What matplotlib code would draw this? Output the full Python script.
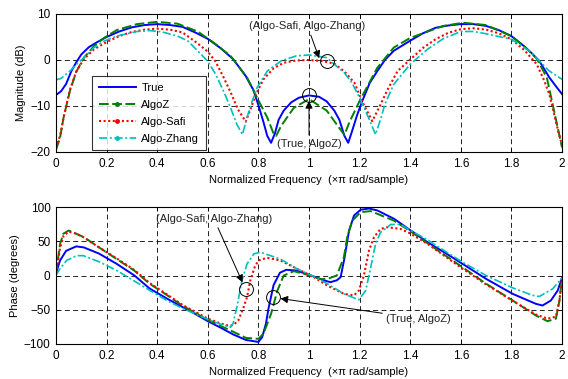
import matplotlib
matplotlib.use("Agg")
import matplotlib.pyplot as plt
from matplotlib.lines import Line2D

plt.rcParams['font.family'] = ['Liberation Sans', 'DejaVu Sans']
plt.rcParams['font.size'] = 8

# ---------------- magnitude responses (dB) ----------------
f_mag_true = [0.00, 0.02, 0.04, 0.06, 0.08, 0.10, 0.13, 0.16, 0.20, 0.25, 0.30, 0.35,
              0.40, 0.45, 0.50, 0.55, 0.60, 0.65, 0.70, 0.75, 0.78, 0.80, 0.82, 0.835,
              0.85, 0.865, 0.88, 0.90, 0.93, 0.96, 1.00, 1.04, 1.07, 1.10, 1.12, 1.14,
              1.155, 1.17, 1.19, 1.21, 1.24, 1.27, 1.30, 1.335, 1.40, 1.45, 1.50, 1.55,
              1.60, 1.65, 1.70, 1.75, 1.80, 1.85, 1.88, 1.91, 1.95, 1.98, 2.00]
mag_true = [-7.6, -6.8, -5.2, -2.5, -0.5, 1.2, 2.8, 3.8, 5.0, 6.2, 7.1, 7.6,
            7.8, 7.6, 7.2, 6.0, 4.6, 2.6, 0.2, -3.5, -6.5, -9.8, -13.5, -16.5,
            -18.0, -16.0, -13.0, -11.0, -9.2, -8.2, -7.7, -8.0, -9.0, -11.0, -13.0, -16.5,
            -18.0, -15.5, -12.0, -9.0, -5.0, -2.4, 0.0, 2.0, 4.2, 5.8, 7.0, 7.5,
            7.8, 7.8, 7.4, 6.5, 5.2, 3.0, 1.5, -0.2, -3.8, -6.0, -7.4]

f_mag_z = [0.00, 0.016, 0.03, 0.055, 0.08, 0.11, 0.15, 0.19, 0.24, 0.32, 0.40, 0.48,
           0.56, 0.62, 0.69, 0.755, 0.795, 0.835, 0.86, 0.87, 0.89, 0.94, 1.00, 1.07,
           1.12, 1.14, 1.16, 1.20, 1.27, 1.335, 1.40, 1.53, 1.61, 1.70, 1.80, 1.85,
           1.90, 1.94, 1.963, 1.983, 2.00]
mag_z = [-19.5, -16.9, -12.5, -6.7, -2.6, 0.5, 3.0, 4.8, 6.5, 7.8, 8.3, 7.9,
         6.2, 3.9, 0.9, -3.8, -8.2, -12.5, -16.0, -16.5, -14.3, -10.4, -8.5, -11.0,
         -14.8, -16.3, -13.5, -8.9, -1.7, 2.7, 4.8, 7.4, 8.1, 7.6, 5.2, 3.0,
         0.3, -3.8, -9.6, -14.7, -19.0]

f_mag_safi = [0.00, 0.016, 0.03, 0.055, 0.08, 0.11, 0.15, 0.20, 0.25, 0.30, 0.35, 0.40,
              0.45, 0.50, 0.56, 0.60, 0.63, 0.66, 0.69, 0.72, 0.75, 0.77, 0.79, 0.82,
              0.86, 0.90, 0.95, 1.00, 1.05, 1.10, 1.14, 1.18, 1.21, 1.25, 1.28, 1.31,
              1.35, 1.40, 1.45, 1.50, 1.55, 1.60, 1.65, 1.70, 1.75, 1.80, 1.85, 1.90,
              1.93, 1.95, 1.97, 1.985, 2.00]
mag_safi = [-19.0, -16.5, -12.5, -6.5, -2.5, 0.2, 2.3, 3.9, 5.2, 6.1, 6.6, 6.8,
            6.6, 6.0, 3.6, 1.8, -0.3, -3.5, -7.0, -10.8, -13.4, -10.5, -7.5, -4.2,
            -1.8, -0.6, -0.1, 0.0, -0.2, -0.8, -2.5, -5.0, -9.0, -13.3, -10.0, -6.5,
            -2.4, 0.1, 2.6, 4.5, 5.9, 6.7, 6.9, 6.6, 5.8, 4.5, 2.2, -0.9,
            -4.5, -7.5, -12.0, -15.5, -18.5]

f_mag_zhang = [0.00, 0.02, 0.055, 0.08, 0.11, 0.15, 0.19, 0.24, 0.32, 0.37, 0.42, 0.48,
               0.52, 0.56, 0.60, 0.63, 0.66, 0.69, 0.715, 0.737, 0.755, 0.775, 0.795, 0.835,
               0.89, 0.95, 1.00, 1.07, 1.14, 1.17, 1.20, 1.235, 1.263, 1.285, 1.30, 1.335,
               1.40, 1.47, 1.53, 1.60, 1.65, 1.70, 1.80, 1.87, 1.91, 1.95, 2.00]
mag_zhang = [-4.3, -4.0, -2.4, -1.0, 0.5, 2.7, 4.1, 5.2, 6.2, 6.4, 6.1, 5.2,
             4.2, 2.0, -0.3, -3.0, -6.5, -10.4, -14.0, -16.2, -12.5, -9.0, -6.0, -2.4,
             -0.2, 0.9, 1.1, 0.5, -2.8, -5.0, -8.2, -12.5, -16.2, -12.5, -9.6, -5.3,
             -0.9, 2.4, 4.6, 6.2, 6.2, 5.7, 4.5, 2.0, -0.2, -2.4, -4.2]

# ---------------- phase responses (degrees) ----------------
f_ph_true = [0.00, 0.016, 0.04, 0.08, 0.11, 0.17, 0.24, 0.31, 0.37, 0.44, 0.50, 0.55,
             0.60, 0.65, 0.70, 0.75, 0.80, 0.815, 0.83, 0.84, 0.86, 0.885, 0.91, 0.95,
             1.00, 1.02, 1.06, 1.085, 1.11, 1.125, 1.14, 1.158, 1.178, 1.204, 1.237, 1.27,
             1.336, 1.402, 1.468, 1.534, 1.607, 1.70, 1.805, 1.897, 1.923, 1.956, 1.983, 2.00]
ph_true = [3, 22, 36, 42.5, 41, 32, 17, 0, -19, -34, -46, -56,
           -66.7, -76, -86, -94, -97, -90, -70, -48, -14, 4, 8.3, 7.3,
           1, -1.5, -7.3, -9.7, -7, -2.4, 25, 65, 87.6, 96, 97.8, 95,
           82.8, 65.7, 48.7, 34, 17, -4.9, -26.8, -41.4, -43.8, -36.5, -22, -3.4]

f_ph_z = [0.00, 0.016, 0.029, 0.05, 0.08, 0.11, 0.17, 0.24, 0.31, 0.37, 0.44, 0.50,
          0.60, 0.70, 0.75, 0.80, 0.82, 0.85, 0.875, 0.90, 0.94, 0.99, 1.02, 1.05,
          1.08, 1.11, 1.138, 1.151, 1.171, 1.204, 1.244, 1.336, 1.40, 1.50, 1.607, 1.70,
          1.805, 1.897, 1.943, 1.976, 1.99, 2.00]
ph_z = [3, 46, 61, 65.7, 61, 56, 41, 24, 7, -12, -29, -44,
        -65, -82, -91, -92.5, -85, -56, -22, 0, 6.3, 1.5, -2.4, -5.5,
        -4, 0, 26.8, 56, 80, 92.5, 94, 80, 64.7, 39, 12, -12,
        -36.5, -58.4, -66.7, -63, -36.5, -4]

f_ph_safi = [0.00, 0.016, 0.03, 0.05, 0.08, 0.11, 0.17, 0.24, 0.31, 0.37, 0.44, 0.50,
             0.60, 0.65, 0.68, 0.70, 0.72, 0.74, 0.755, 0.768, 0.785, 0.80, 0.834, 0.887,
             0.953, 1.019, 1.072, 1.138, 1.178, 1.197, 1.217, 1.237, 1.257, 1.283, 1.31, 1.362,
             1.402, 1.468, 1.534, 1.607, 1.70, 1.805, 1.897, 1.943, 1.976, 1.99, 2.00]
ph_safi = [3, 40, 58, 64, 61, 55.5, 41, 25, 8, -11, -28, -43,
           -63, -70, -73, -72.5, -66, -48, -31.6, -7.3, 12, 22, 25.8, 22,
           9.7, -2.4, -14.6, -26.8, -29, -22, 0, 36.5, 56, 68, 70.5, 68,
           61, 46.3, 29, 10, -13, -37, -57, -63, -60, -36, -4]

f_ph_zhang = [0.00, 0.016, 0.042, 0.082, 0.108, 0.174, 0.24, 0.306, 0.372, 0.438, 0.504, 0.60,
              0.65, 0.69, 0.70, 0.715, 0.735, 0.755, 0.782, 0.808, 0.887, 0.953, 1.019, 1.072,
              1.138, 1.197, 1.224, 1.244, 1.263, 1.283, 1.323, 1.362, 1.402, 1.468, 1.534, 1.607,
              1.70, 1.805, 1.884, 1.91, 1.963, 2.00]
ph_zhang = [0, 10, 22, 29, 29, 19.5, 7.3, -7.3, -22, -36.5, -48.6, -64,
            -71, -75.5, -70, -46, -7.3, 17, 31.6, 34, 24, 9.7, -1.5, -12,
            -26.8, -35.5, -22, 12, 46, 63, 74.5, 74.5, 65.7, 52, 36.5, 19.5,
            0, -18, -29, -30.7, -19.5, -3.4]

series_names = ['True', 'AlgoZ', 'Algo-Safi', 'Algo-Zhang']
x_ticks = [0, 0.2, 0.4, 0.6, 0.8, 1, 1.2, 1.4, 1.6, 1.8, 2]
x_ticklabels = ['0', '0.2', '0.4', '0.6', '0.8', '1', '1.2', '1.4', '1.6', '1.8', '2']
mag_ticks = [-20, -10, 0, 10]
phase_ticks = [-100, -50, 0, 50, 100]

styles = [
    dict(color='#0000FF', ls='-', lw=1.4),
    dict(color='#008000', ls=(0, (5, 1.8)), lw=1.4),
    dict(color='#FF0000', ls=(0, (1.0, 1.2)), lw=1.5),
    dict(color='#00BFBF', ls=(0, (5, 1.5, 1.2, 1.5)), lw=1.2),
]
legend_markers = ['', '.', '.', '.']

xlabel = 'Normalized Frequency  (\u00d7\u03c0 rad/sample)'

fig = plt.figure(figsize=(5.68, 3.79), dpi=100)
ax1 = fig.add_axes([56 / 568, 1 - 152 / 379, 506 / 568, 138 / 379])
ax2 = fig.add_axes([56 / 568, 1 - 344 / 379, 506 / 568, 137 / 379])


def style_axes(ax, yticks, ylim, ylabel):
    ax.set_xlim(0, 2)
    ax.set_ylim(*ylim)
    ax.set_xticks(x_ticks)
    ax.set_xticklabels(x_ticklabels)
    ax.set_yticks(yticks)
    ax.grid(True, color='k', ls=(0, (6, 4)), lw=0.6)
    ax.tick_params(direction='in', length=3, width=0.6, top=True, right=True,
                   labelsize=8.5, pad=4)
    for s in ax.spines.values():
        s.set_linewidth(0.8)
    ax.set_xlabel(xlabel, fontsize=8, labelpad=4)
    ax.set_ylabel(ylabel, fontsize=8, labelpad=3)


mag_sets = [(f_mag_true, mag_true), (f_mag_z, mag_z),
            (f_mag_safi, mag_safi), (f_mag_zhang, mag_zhang)]
ph_sets = [(f_ph_true, ph_true), (f_ph_z, ph_z),
           (f_ph_safi, ph_safi), (f_ph_zhang, ph_zhang)]

for (fx, fy), st in zip(mag_sets, styles):
    ax1.plot(fx, fy, **st)
for (fx, fy), st in zip(ph_sets, styles):
    ax2.plot(fx, fy, **st)

style_axes(ax1, mag_ticks, (-20, 10), 'Magnitude (dB)')
style_axes(ax2, phase_ticks, (-100, 100), 'Phase (degrees)')

handles = [Line2D([], [], marker=m, markersize=5, **st)
           for st, m in zip(styles, legend_markers)]
leg = ax1.legend(handles, series_names, loc='upper left',
                 bbox_to_anchor=(0.072, 0.548), fontsize=8, frameon=True,
                 fancybox=False, handlelength=3.3, borderpad=0.6,
                 labelspacing=0.62, handletextpad=0.5, borderaxespad=0)
leg.get_frame().set_edgecolor('k')
leg.get_frame().set_linewidth(0.8)

arrow = dict(arrowstyle='-|>', color='k', lw=0.7, mutation_scale=11,
             shrinkA=1, shrinkB=0)
ring = dict(marker='o', ms=10, mfc='none', mec='k', mew=0.7, ls='none')
note_color = '#222222'

# magnitude annotations
ax1.plot([1.07], [-0.2], **ring)
ax1.annotate('(Algo-Safi, Algo-Zhang)', xy=(1.04, 0.4), xytext=(0.994, 7.4),
             ha='center', va='center', fontsize=8, color=note_color, arrowprops=arrow)
ax1.plot([1.0], [-7.6], **ring)
ax1.annotate('(True, AlgoZ)', xy=(1.0, -8.9), xytext=(1.0, -18.3),
             ha='center', va='center', fontsize=8, color=note_color, arrowprops=arrow)

# phase annotations
ax2.plot([0.752], [-19], **ring)
ax2.annotate('(Algo-Safi, Algo-Zhang)', xy=(0.737, -10), xytext=(0.624, 83),
             ha='center', va='center', fontsize=8, color=note_color, arrowprops=arrow)
ax2.plot([0.859], [-31], **ring)
ax2.annotate('(True, AlgoZ)', xy=(0.887, -33.6), xytext=(1.434, -62.8),
             ha='center', va='center', fontsize=8, color=note_color, arrowprops=arrow)

fig.savefig('out.png', dpi=100)
